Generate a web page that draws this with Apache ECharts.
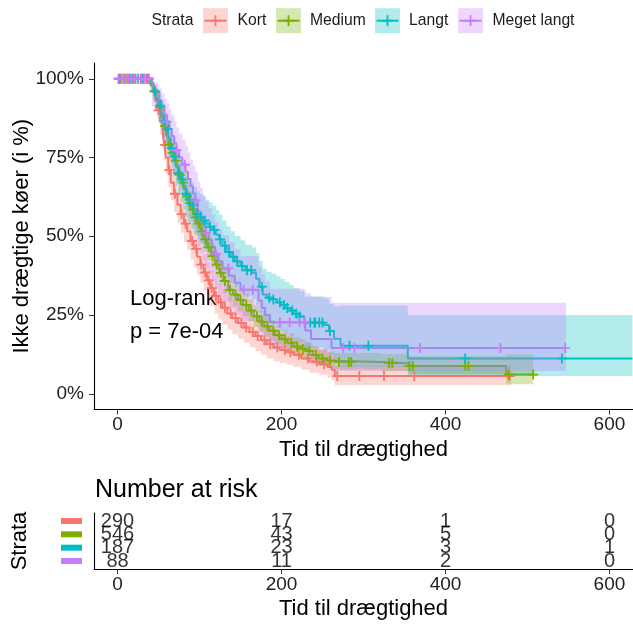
<!DOCTYPE html>
<html>
<head>
<meta charset="utf-8">
<script src="https://cdn.jsdelivr.net/npm/echarts@6/dist/echarts.min.js"></script>
<style>
  html, body { margin: 0; padding: 0; background: #fff; }
  #chart { width: 633px; height: 624px; }
</style>
</head>
<body>
<div id="chart"></div>
<script>
// Strata and their colours
const strataNames = ['Kort', 'Medium', 'Langt', 'Meget langt'];
const strataColors = ['#F8766D', '#7CAE00', '#00BFC4', '#C77CFF'];
const strataFills = ['rgba(248,118,109,0.3)', 'rgba(124,174,0,0.3)', 'rgba(0,191,196,0.3)', 'rgba(199,124,255,0.3)'];

// Kaplan-Meier steps per stratum: event time, survival (%), 95% CI lower/upper (%)
const kortTime  = [0,40,43,46,49,52,55,57,59,62,65,69,73,77,81,85,89,93,97,101,105,109,113,118,123,128,134,140,147,154,161,168,175,182,190,198,206,214,224,234,246,256,261,265];
const kortSurv  = [100,98,96,93,90,86.5,83,79,75,71,67,63.5,60,57,54,51.5,48.5,46,43.5,41,38.5,36,33.5,31,29,27.3,25.5,24,22.5,21,19.6,18.3,17,15.8,14.7,13.9,13.2,12.4,11.2,10.2,9.4,8.5,7.6,5.6];
const kortLower = [100,96.2,93.6,90.0,86.4,82.3,78.4,74.0,69.8,65.6,61.4,57.8,54.2,51.1,48.1,45.6,42.6,40.1,37.6,35.2,32.7,30.3,27.9,25.5,23.6,22.0,20.3,18.9,17.5,16.1,14.8,13.6,12.4,11.3,10.3,9.8,9.2,8.6,7.6,6.7,6.0,5.1,4.2,2.7];
const kortUpper = [100,99.1,97.7,95.3,92.9,89.9,86.7,83.2,79.6,75.9,72.1,68.7,65.4,62.5,59.6,57.2,54.3,51.8,49.4,46.9,44.4,41.9,39.4,36.9,34.8,33.1,31.2,29.7,28.1,26.5,25.0,23.7,22.3,21.0,19.9,19.0,18.3,17.4,16.0,14.9,14.1,13.1,12.1,8.9];
const kortEnd = 480;
const kortCensor = [5,12,20,28,35,50,58,63,70,78,83,91,96,102,107,111,115,120,126,131,138,144,151,157,165,171,179,186,195,204,211,221,232,243,252,268,295,325,362,478];

const mediumTime  = [0,40,44,47,50,53,56,59,62,65,69,72,75,78,81,84,87,90,94,97,101,105,109,114,119,124,129,135,141,147,153,160,166,173,179,185,192,200,207,215,222,229,238,245,256,265,322,355,474];
const mediumSurv  = [100,98.5,96,93.5,91,88,85,82,79,76.5,74,72,69.5,67,65,62.7,60.5,58.5,56,54,51.5,49,46.5,43.7,41,38.4,35.8,33,31.5,29.8,28.2,26.4,24.6,22.9,21.4,20,18.6,17.3,16.2,15,14.3,13.6,12.3,11.2,10.5,10.1,9.7,8.8,6.1];
const mediumLower = [100,97.3,94.3,91.5,88.7,85.4,82.1,78.9,75.7,73.0,70.3,68.2,65.6,63.0,61.0,58.7,56.5,54.5,52.0,50.0,47.5,45.0,42.5,39.8,37.1,34.5,32.0,29.3,27.8,26.2,24.6,22.9,21.2,19.6,18.2,16.9,15.6,14.4,13.4,12.3,11.6,11.0,9.8,8.8,8.1,7.7,7.2,6.3,3.0];
const mediumUpper = [100,99.3,97.3,95.3,93.0,90.4,87.6,84.8,82.0,79.7,77.4,75.5,73.1,70.7,68.7,66.5,64.3,62.3,59.9,57.9,55.4,52.9,50.4,47.6,44.9,42.3,39.7,36.9,35.4,33.6,32.0,30.1,28.2,26.4,24.8,23.3,21.8,20.4,19.3,18.0,17.3,16.5,15.1,14.0,13.3,12.9,12.6,11.9,12.5];
const mediumEnd = 507;
const mediumCensor = [3,10,18,25,32,38,46,52,58,63,67,71,76,80,85,88,92,95,99,103,107,111,116,121,126,131,137,144,150,157,163,170,176,183,190,197,204,212,219,226,234,242,250,259,270,282,285,331,335,356,360,424,428,477,507];

const langtTime  = [0,41,44,47,50,53,56,59,62,65,68,71,74,77,80,83,86,90,93,97,100,104,108,112,116,120,124,128,133,138,143,150,156,164,169,173,177,182,188,194,199,204,210,215,222,228,252,258,264,272,354];
const langtSurv  = [100,98,96,94,91.5,89,86.5,84,81,78,75.4,72.5,70,68,65.9,63.5,61.6,60,58.5,57,56,55,54,53,52,50.5,49,47,45,43.5,42,40.5,39.2,38.4,36.5,34,31.5,30.5,29.9,29.0,28.2,27.2,26.4,25.4,24.5,22.6,21.8,19.9,17.5,15.2,11.2];
const langtLower = [100,95.5,92.6,90.2,87.2,84.3,81.4,78.5,75.1,71.8,68.9,65.8,63.1,60.9,58.6,56.0,54.0,52.3,50.7,49.1,48.0,46.9,45.9,44.8,43.8,42.3,40.7,38.7,36.7,35.2,33.7,32.2,30.9,30.1,28.2,25.8,23.4,22.4,21.8,20.9,20.1,19.1,18.3,17.4,16.5,14.8,14.0,12.3,10.3,8.6,5.6];
const langtUpper = [100,99.3,98.0,96.8,95.0,93.0,91.0,88.9,86.2,83.5,81.1,78.4,76.1,74.3,72.4,70.2,68.5,67.0,65.6,64.3,63.4,62.5,61.6,60.6,59.7,58.3,56.8,55.0,53.1,51.6,50.1,48.7,47.3,46.5,44.7,42.2,39.7,38.7,38.1,37.3,36.4,35.4,34.5,33.5,32.6,30.9,30.2,28.6,27.8,28.0,25.0];
const langtEnd = 628;
const langtCensor = [2,8,15,22,30,37,45,52,57,61,66,70,74,79,84,88,92,97,102,106,113,118,125,131,136,141,146,152,158,163,176,185,190,198,203,207,213,218,222,235,240,241,246,250,259,283,306,424,542];

const megetTime  = [0,42,45,48,51,54,57,60,63,66,69,72,75,79,83,86,89,92,95,98,101,104,107,111,115,119,123,128,136,143,150,172,176,180,186,229,236,261];
const megetSurv  = [100,97.7,96.6,95.5,93.2,90.9,88.6,86.4,84.1,81.8,79.5,77.3,75,72.7,70.5,68.2,65.9,63.6,61.4,58,55.7,53.4,51.1,48.9,46.6,44.3,42,39.8,37.5,35.2,33,29.6,27.3,25,22.7,20.1,17.4,14.5];
const megetLower = [100,91.3,89.9,88.4,85.5,82.7,80.0,77.3,74.7,72.1,69.5,67.1,64.6,62.1,59.7,57.3,54.9,52.6,50.3,46.9,44.6,42.3,40.1,37.9,35.7,33.5,31.3,29.3,27.2,25.1,23.1,20.0,18.0,16.0,14.0,11.8,9.4,7.2];
const megetUpper = [100,99.4,98.9,98.3,97.0,95.4,93.9,92.2,90.4,88.5,86.5,84.6,82.6,80.6,78.6,76.5,74.4,72.5,70.5,67.4,65.3,63.2,61.0,58.9,56.8,54.6,52.4,50.3,48.1,45.9,43.7,40.4,38.0,35.7,33.3,32.0,30.8,28.9];
const megetEnd = 547;
const megetCensor = [1,5,9,13,17,21,25,29,33,38,60,72,82,95,108,120,135,154,165,198,210,222,228,275,289,369,467,546];

// Number at risk table
const riskTimes = [0, 200, 400, 600];
const riskKort = [290, 17, 1, 0];
const riskMedium = [546, 43, 5, 0];
const riskLangt = [187, 23, 3, 1];
const riskMeget = [88, 11, 2, 0];

// Axis ticks
const xTicks = [0, 200, 400, 600];
const yTicks = [0, 25, 50, 75, 100];

const FONT = '"Liberation Sans", Arial, Helvetica, sans-serif';
const X_MIN = -28.7, X_MAX = 628.7;

const strata = [
  { time: kortTime, surv: kortSurv, lower: kortLower, upper: kortUpper, end: kortEnd, censor: kortCensor, risk: riskKort },
  { time: mediumTime, surv: mediumSurv, lower: mediumLower, upper: mediumUpper, end: mediumEnd, censor: mediumCensor, risk: riskMedium },
  { time: langtTime, surv: langtSurv, lower: langtLower, upper: langtUpper, end: langtEnd, censor: langtCensor, risk: riskLangt },
  { time: megetTime, surv: megetSurv, lower: megetLower, upper: megetUpper, end: megetEnd, censor: megetCensor, risk: riskMeget }
];

// value of a right-continuous step curve at time t
function stepValue(times, values, t) {
  let v = values[0];
  for (let i = 0; i < times.length; i++) {
    if (times[i] <= t) v = values[i]; else break;
  }
  return v;
}

const PLUS = 'path://M4.1,0H5.9V4.1H10V5.9H5.9V10H4.1V5.9H0V4.1H4.1Z';

const series = [];

// survival curves (drawn first, ribbons sit on top)
strata.forEach((s, k) => {
  const pts = s.time.map((t, i) => [t, s.surv[i]]);
  pts.push([s.end, s.surv[s.surv.length - 1]]);
  series.push({
    name: strataNames[k], type: 'line', xAxisIndex: 0, yAxisIndex: 0,
    step: 'end', data: pts, symbol: 'none', showSymbol: false, silent: true,
    lineStyle: { color: strataColors[k], width: 2 }, z: 2
  });
});

// confidence ribbons as stepped polygons
strata.forEach((s, k) => {
  series.push({
    type: 'custom', xAxisIndex: 0, yAxisIndex: 0, silent: true, z: 3,
    data: [[0, 0]],
    renderItem: function (params, api) {
      const n = s.time.length;
      const pts = [];
      for (let i = 0; i < n; i++) {
        const tNext = i + 1 < n ? s.time[i + 1] : s.end;
        pts.push(api.coord([s.time[i], s.upper[i]]));
        pts.push(api.coord([tNext, s.upper[i]]));
      }
      for (let i = n - 1; i >= 0; i--) {
        const tNext = i + 1 < n ? s.time[i + 1] : s.end;
        pts.push(api.coord([tNext, s.lower[i]]));
        pts.push(api.coord([s.time[i], s.lower[i]]));
      }
      return { type: 'polygon', shape: { points: pts }, style: { fill: strataFills[k] } };
    }
  });
});

// censoring marks
strata.forEach((s, k) => {
  series.push({
    type: 'scatter', xAxisIndex: 0, yAxisIndex: 0, silent: true, z: 4,
    symbol: PLUS, symbolSize: 10,
    itemStyle: { color: strataColors[k], opacity: 1 },
    data: s.censor.map(t => [t, stepValue(s.time, s.surv, t)])
  });
});

// number at risk
strata.forEach((s, k) => {
  series.push({
    type: 'scatter', xAxisIndex: 1, yAxisIndex: 1, silent: true, z: 5,
    symbol: 'circle', symbolSize: 1, itemStyle: { color: 'rgba(0,0,0,0)' },
    label: {
      show: true, position: 'inside', color: '#000', fontSize: 20, fontFamily: FONT,
      formatter: p => String(p.value[2])
    },
    data: riskTimes.map((t, i) => [t, 4 - k, s.risk[i]])
  });
});

// legend drawn as graphic keys: ribbon box, line and censor cross
const legendKeyX = [203, 276, 375, 458];
const legendTextX = [237.5, 310, 409, 492.5];
const graphic = [
  { type: 'text', left: 151.5, top: 12.5, style: { text: 'Strata', fontSize: 15.7, fontFamily: FONT, fill: '#1a1a1a' } }
];
strataNames.forEach((name, k) => {
  const x0 = legendKeyX[k];
  graphic.push({ type: 'line', shape: { x1: x0 + 1.5, y1: 20.7, x2: x0 + 23.5, y2: 20.7 }, style: { stroke: strataColors[k], lineWidth: 2 }, z: 10 });
  graphic.push({ type: 'rect', shape: { x: x0, y: 8.2, width: 25, height: 25 }, style: { fill: strataFills[k] }, z: 11 });
  graphic.push({ type: 'line', shape: { x1: x0 + 12.5, y1: 15.2, x2: x0 + 12.5, y2: 26.2 }, style: { stroke: strataColors[k], lineWidth: 1.8 }, z: 12 });
  graphic.push({ type: 'line', shape: { x1: x0 + 7, y1: 20.7, x2: x0 + 18, y2: 20.7 }, style: { stroke: strataColors[k], lineWidth: 1.8 }, z: 12 });
  graphic.push({ type: 'text', left: legendTextX[k], top: 12.5, style: { text: name, fontSize: 15.7, fontFamily: FONT, fill: '#1a1a1a' }, z: 12 });
});
// log-rank annotation
graphic.push({ type: 'text', left: 130, top: 288, style: { text: 'Log-rank', fontSize: 22, fontFamily: FONT, fill: '#000' } });
graphic.push({ type: 'text', left: 130, top: 320.5, style: { text: 'p = 7e-04', fontSize: 22, fontFamily: FONT, fill: '#000' } });

const richBars = {};
strataColors.forEach((c, k) => {
  richBars['b' + k] = { backgroundColor: c, width: 21, height: 6, fontSize: 1, lineHeight: 6, padding: 0 };
});

const axisCommon = {
  axisLine: { show: true, onZero: false, lineStyle: { color: '#000', width: 1.1 } },
  splitLine: { show: false },
  nameMoveOverlap: false,
  nameTextStyle: { fontSize: 22, color: '#000', fontFamily: FONT }
};

const option = {
  animation: false,
  backgroundColor: '#fff',
  textStyle: { fontFamily: FONT },
  title: {
    text: 'Number at risk', left: 95, top: 478, padding: 0,
    textStyle: { fontSize: 25, fontWeight: 'normal', color: '#000', fontFamily: FONT }
  },
  grid: [
    { left: 94, top: 63, width: 539, height: 346.5, containLabel: false, outerBoundsMode: 'none' },
    { left: 94, top: 513, width: 539, height: 56, containLabel: false, outerBoundsMode: 'none' }
  ],
  xAxis: [
    Object.assign({}, axisCommon, {
      type: 'value', gridIndex: 0, min: X_MIN, max: X_MAX,
      axisTick: { show: true, length: 5, lineStyle: { color: '#333' }, customValues: xTicks },
      axisLabel: { customValues: xTicks, fontSize: 19, color: '#222', margin: 6, fontFamily: FONT },
      name: 'Tid til drægtighed', nameLocation: 'middle', nameGap: 29
    }),
    Object.assign({}, axisCommon, {
      type: 'value', gridIndex: 1, min: X_MIN, max: X_MAX,
      axisTick: { show: true, length: 5, lineStyle: { color: '#333' }, customValues: xTicks },
      axisLabel: { customValues: xTicks, fontSize: 19, color: '#222', margin: 6, fontFamily: FONT },
      name: 'Tid til drægtighed', nameLocation: 'middle', nameGap: 29
    })
  ],
  yAxis: [
    Object.assign({}, axisCommon, {
      type: 'value', gridIndex: 0, min: -5, max: 105,
      axisTick: { show: true, length: 5, lineStyle: { color: '#333' }, customValues: yTicks },
      axisLabel: { customValues: yTicks, fontSize: 19, color: '#222', margin: 10, fontFamily: FONT, formatter: v => v + '%' },
      name: 'Ikke drægtige køer (i %)', nameLocation: 'middle', nameGap: 61, nameRotate: 90
    }),
    Object.assign({}, axisCommon, {
      type: 'value', gridIndex: 1, min: 0.4, max: 4.6,
      axisTick: { show: false },
      axisLabel: {
        customValues: [1, 2, 3, 4], margin: 12,
        formatter: v => '{b' + (4 - v) + '|\u00a0}',
        rich: richBars
      },
      name: 'Strata', nameLocation: 'middle', nameGap: 63, nameRotate: 90
    })
  ],
  series: series,
  graphic: graphic
};

const chart = echarts.init(document.getElementById('chart'));
chart.setOption(option);
</script>
</body>
</html>
